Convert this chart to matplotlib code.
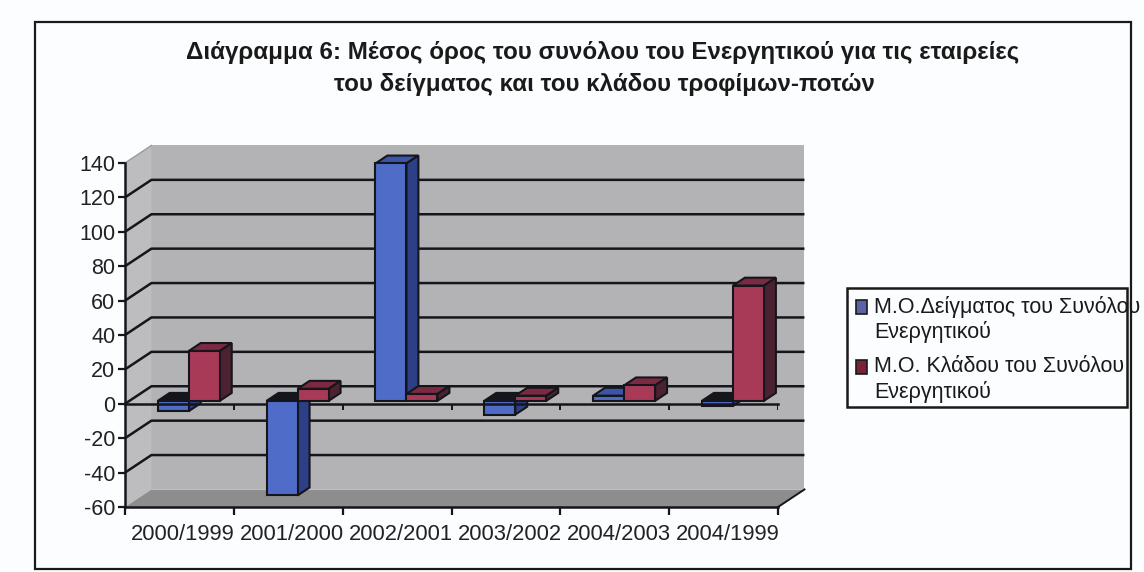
#!/usr/bin/env python3
import numpy as np
import matplotlib.pyplot as plt
from matplotlib.patches import Polygon, Rectangle

years = ['2000/1999', '2001/2000', '2002/2001', '2003/2002', '2004/2003', '2004/1999']
sample_avg = [-6, -55, 138, -8, 3, -3]
sector_avg = [29, 7, 4, 3, 9, 67]
y_ticks = [-60, -40, -20, 0, 20, 40, 60, 80, 100, 120, 140]

title_lines = ['Διάγραμμα 6: Μέσος όρος του συνόλου του Ενεργητικού για τις εταιρείες',
               'του δείγματος και του κλάδου τροφίμων-ποτών']
legend_lines = ['Μ.Ο.Δείγματος του Συνόλου', 'Ενεργητικού', 'Μ.Ο. Κλάδου του Συνόλου', 'Ενεργητικού']

W, H = 1144, 572
plt.rcParams['font.family'] = ['Liberation Sans', 'DejaVu Sans']
plt.rcParams['axes.unicode_minus'] = False

# oblique offset of the back wall, in data units
DX = 0.243
DY = 10.2
INK = '#15151c'

def fx(px):
    return px / W

def fy(py):
    return 1 - py / H

def quad(ax, pts, color, z, edge=None, lw=0):
    ax.add_patch(Polygon(pts, closed=True, facecolor=color, edgecolor=edge or color,
                         linewidth=lw, clip_on=False, zorder=z))

def bar3d(ax, x, width, val, colors, z):
    d0, d1 = 0.17, 0.62
    x0 = x + d0 * DX
    x1 = x0 + width
    base = d0 * DY
    top = base + val
    sx = (d1 - d0) * DX
    sy = (d1 - d0) * DY
    hi = max(base, top)
    lo = min(base, top)
    # the top of a negative bar falls in shadow
    top_col = INK if val < 0 else colors[1]
    quad(ax, [(x0, hi), (x1, hi), (x1 + sx, hi + sy), (x0 + sx, hi + sy)], top_col, z, INK, 1.5)
    quad(ax, [(x1, lo), (x1, hi), (x1 + sx, hi + sy), (x1 + sx, lo + sy)], colors[2], z, INK, 1.5)
    ax.bar(x0, hi - lo, width=width, bottom=lo, align='edge', color=colors[0],
           edgecolor=INK, linewidth=1.5, zorder=z + 0.1, clip_on=False)

fig = plt.figure(figsize=(W / 100, H / 100), dpi=100, facecolor='#fbfdfe')
ax = fig.add_axes([fx(125), fy(507), 653 / W, 344 / H])
ax.set_xlim(0, len(years))
ax.set_ylim(-60, 140)
ax.patch.set_alpha(0)

n = len(years)
ymin, ymax = y_ticks[0], y_ticks[-1]

# walls and floor
quad(ax, [(DX, ymin + DY), (n + DX, ymin + DY), (n + DX, ymax + DY), (DX, ymax + DY)], '#b3b3b5', 0)
quad(ax, [(0, ymin), (DX, ymin + DY), (DX, ymax + DY), (0, ymax)], '#bdbdbf', 0)
quad(ax, [(0, ymin), (n, ymin), (n + DX, ymin + DY), (DX, ymin + DY)], '#8d8d8d', 0.5)

# gridlines, back wall plus the diagonal on the side wall
for v in y_ticks[1:-1]:
    ax.plot([0, DX, n + DX], [v, v + DY, v + DY], color=INK, lw=1.8, clip_on=False, zorder=1,
            solid_capstyle='butt')
ax.plot([0, DX], [ymax, ymax + DY], color='#9a9a9a', lw=1, clip_on=False, zorder=1)
ax.plot([n, n + DX], [ymin, ymin + DY], color=INK, lw=1.4, clip_on=False, zorder=1)

# zero line with its ticks
ax.plot([0, n], [0, 0], color=INK, lw=1.8, zorder=3, clip_on=False)
ax.vlines(np.arange(1, n + 1), -3.5, 0, color=INK, lw=1.4, zorder=3)

blue = ('#4f6cc8', '#3c55a8', '#2d3f86')
red = ('#a83a58', '#7c2a42', '#4d2230')
bar_w = 0.285
for i in range(n):
    # the long negative bar hides the zero line, the short ones do not
    z = 4 if i == 1 else 2
    bar3d(ax, i + 0.26, bar_w, sample_avg[i], blue, z)
    bar3d(ax, i + 0.26 + bar_w, bar_w, sector_avg[i], red, z + 0.3)

ax.set_yticks(y_ticks)
ax.set_xticks(np.arange(n + 1))
ax.set_xticks(np.arange(n) + 0.535, minor=True)
ax.set_xticklabels(years, minor=True)
ax.set_xticklabels([])
ax.tick_params(axis='x', which='major', length=6, width=1.6, color=INK)
ax.tick_params(axis='x', which='minor', length=0, pad=12, labelsize=15.8, labelcolor='#222222')
ax.tick_params(axis='y', length=5, width=1.6, color=INK, pad=2, labelsize=15.5, labelcolor='#222222')
for s in ['top', 'right']:
    ax.spines[s].set_visible(False)
for s in ['left', 'bottom']:
    ax.spines[s].set_color(INK)
    ax.spines[s].set_linewidth(1.8)
    ax.spines[s].set_zorder(3)

# outer frame
fig.add_artist(Rectangle((fx(35), fy(569)), 1096 / W, 547 / H, fill=False,
                         edgecolor='#1a1a1a', linewidth=1.6, transform=fig.transFigure))

fig.text(fx(603), fy(52), title_lines[0], ha='center', va='center', fontsize=17.4,
         fontweight='bold', color='#1a1a1a')
fig.text(fx(604), fy(85), title_lines[1], ha='center', va='center', fontsize=17.4,
         fontweight='bold', color='#1a1a1a')

# legend box, the long lines run past its frame as in the original
fig.add_artist(Rectangle((fx(847), fy(407)), 280 / W, 119 / H, facecolor='none',
                         edgecolor='#1a1a1a', linewidth=1.8, transform=fig.transFigure))
for txt, py in zip(legend_lines, [307, 332, 367, 392]):
    fig.text(fx(874), fy(py), txt, ha='left', va='center', fontsize=15.5, color='#1a1a1a')
for col, py in zip(['#5a62a8', '#7a2238'], [307, 367]):
    fig.add_artist(Rectangle((fx(856), fy(py + 7)), 11 / W, 14 / H, facecolor=col,
                             edgecolor='#1a1a1a', linewidth=1.2, transform=fig.transFigure))

fig.savefig('out.png', dpi=100, facecolor=fig.get_facecolor())
